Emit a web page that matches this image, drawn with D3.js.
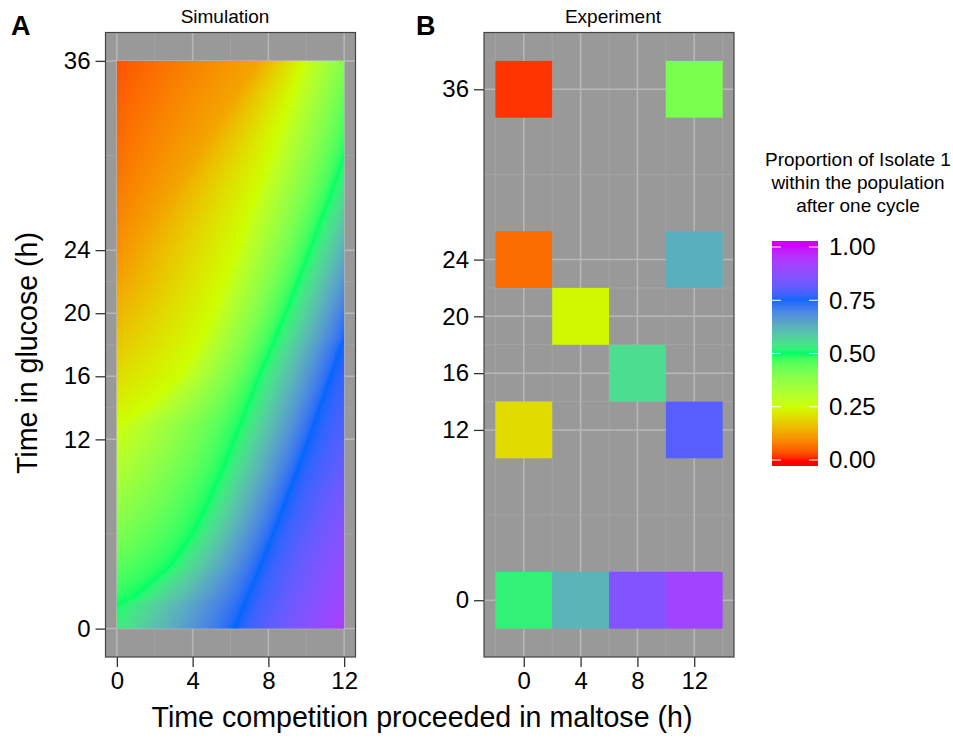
<!DOCTYPE html>
<html>
<head>
<meta charset="utf-8">
<script src="https://cdn.jsdelivr.net/npm/d3@7"></script>
<style>
  body { margin: 0; background: #fff; }
  text { font-family: "Liberation Sans", Arial, sans-serif; fill: #000; }
</style>
</head>
<body>
<div id="chart"></div>
<script>
// simulation (time in glucose, h):
// proportion at the left (0 h) and right (12 h) edges, and the x (h in maltose)
// where the proportion crosses 0.125 / 0.25 / 0.5 / 0.75 (null = not in this row)
var rowY      = [0, 2, 4, 6, 8, 10, 12, 14, 16, 18, 20, 22, 24, 26, 28, 30, 32, 34, 36];
var edgeLeft  = [0.53, 0.49, 0.45, 0.405, 0.36, 0.315, 0.265, 0.23, 0.20, 0.17, 0.145, 0.12, 0.10, 0.085, 0.072, 0.062, 0.053, 0.044, 0.035];
var edgeRight = [0.93, 0.91, 0.89, 0.87, 0.845, 0.82, 0.80, 0.785, 0.77, 0.755, 0.717, 0.674, 0.63, 0.587, 0.543, 0.50, 0.467, 0.435, 0.40];
var cross125  = [null, null, null, null, null, null, null, null, null, null, null, 0.25, 1.1, 2.1, 3.1, 4.2, 5.3, 6.4, 7.5];
var cross25   = [null, null, null, null, null, null, null, 1.5, 3.3, 4.35, 5.1, 5.75, 6.35, 6.9, 7.5, 8.1, 8.7, 9.3, 9.9];
var cross50   = [null, 0.9, 2.85, 4.0, 4.82, 5.55, 6.2, 6.85, 7.5, 8.2, 8.9, 9.55, 10.18, 10.8, 11.43, null, null, null, null];
var cross75   = [6.2, 6.9, 7.58, 8.24, 8.87, 9.49, 10.1, 10.69, 11.27, 11.85, null, null, null, null, null, null, null, null, null];
var levels    = [0.125, 0.25, 0.5, 0.75];

// experiment tiles
var expX = [0, 12, 0, 12, 4, 8, 0, 12, 0, 4, 8, 12];
var expY = [36, 36, 24, 24, 20, 16, 12, 12, 0, 0, 0, 0];
var expP = [0.015, 0.41, 0.06, 0.63, 0.24, 0.555, 0.2, 0.8, 0.52, 0.62, 0.86, 0.91];

var xTicks = [0, 4, 8, 12];
var yTicks = [0, 12, 16, 20, 24, 36];
var legendTicks = [0, 0.25, 0.5, 0.75, 1];
var rainbow5 = ["#FF0000", "#CCFF00", "#00FF66", "#0066FF", "#CC00FF"];

var color = d3.scaleLinear()
  .domain([0, 0.25, 0.5, 0.75, 1])
  .range(rainbow5)
  .interpolate(d3.interpolateLab)
  .clamp(true);

var svg = d3.select("#chart").append("svg")
  .attr("width", 953)
  .attr("height", 741);

var pTop = 32.5, pBot = 657;

var xA = d3.scaleLinear().domain([-0.6, 12.6]).range([105.5, 355.5]);
var yA = d3.scaleLinear().domain([-1.8, 37.8]).range([pBot, pTop]);
var xB = d3.scaleLinear().domain([-2.8, 14.8]).range([484, 734]);
var yB = d3.scaleLinear().domain([-4, 40]).range([pBot, pTop]);

function drawGrid(g, x, y, minorX, minorY) {
  g.append("rect")
    .attr("x", x.range()[0]).attr("y", pTop)
    .attr("width", x.range()[1] - x.range()[0])
    .attr("height", pBot - pTop)
    .attr("fill", "#999999");
  g.selectAll(".mx").data(minorX).enter().append("line")
    .attr("x1", d => x(d)).attr("x2", d => x(d))
    .attr("y1", pTop).attr("y2", pBot)
    .attr("stroke", "#a6a6a6").attr("stroke-width", 0.8);
  g.selectAll(".my").data(minorY).enter().append("line")
    .attr("y1", d => y(d)).attr("y2", d => y(d))
    .attr("x1", x.range()[0]).attr("x2", x.range()[1])
    .attr("stroke", "#a6a6a6").attr("stroke-width", 0.8);
  g.selectAll(".gx").data(xTicks).enter().append("line")
    .attr("x1", d => x(d)).attr("x2", d => x(d))
    .attr("y1", pTop).attr("y2", pBot)
    .attr("stroke", "#b8b8b8").attr("stroke-width", 1.5);
  g.selectAll(".gy").data(yTicks).enter().append("line")
    .attr("y1", d => y(d)).attr("y2", d => y(d))
    .attr("x1", x.range()[0]).attr("x2", x.range()[1])
    .attr("stroke", "#b8b8b8").attr("stroke-width", 1.5);
}

function drawAxes(g, x, y) {
  var ax = g.append("g")
    .attr("transform", "translate(0," + pBot + ")")
    .call(d3.axisBottom(x).tickValues(xTicks).tickSize(10).tickPadding(5));
  var ay = g.append("g")
    .attr("transform", "translate(" + x.range()[0] + ",0)")
    .call(d3.axisLeft(y).tickValues(yTicks).tickSize(10).tickPadding(5));
  [ax, ay].forEach(function(a) {
    a.select(".domain").remove();
    a.selectAll("line").attr("stroke", "#333").attr("stroke-width", 1.3);
    a.selectAll("text").attr("font-size", 24).attr("fill", "#000")
      .style("font-family", '"Liberation Sans", Arial, sans-serif');
  });
  g.append("rect")
    .attr("x", x.range()[0]).attr("y", pTop)
    .attr("width", x.range()[1] - x.range()[0])
    .attr("height", pBot - pTop)
    .attr("fill", "none").attr("stroke", "#444").attr("stroke-width", 1.2);
}

// ---- panel A: simulation raster
var gA = svg.append("g");
drawGrid(gA, xA, yA, [2, 6, 10], [6, 14, 18, 22, 30]);

// each level line as (y, x) points: row crossings + where it meets the left/right edge
var contours = levels.map(function(L, li) {
  var cr = [cross125, cross25, cross50, cross75][li];
  var pts = [];
  rowY.forEach(function(yv, j) { if (cr[j] != null) pts.push([yv, cr[j]]); });
  [[edgeLeft, 0], [edgeRight, 12]].forEach(function(e) {
    var ev = e[0];
    for (var j = 0; j < rowY.length; j++) {
      if (ev[j] == L) pts.push([rowY[j], e[1]]);
      if (j < rowY.length - 1 && (ev[j] - L) * (ev[j + 1] - L) < 0) {
        pts.push([rowY[j] + (L - ev[j]) / (ev[j + 1] - ev[j]) * (rowY[j + 1] - rowY[j]), e[1]]);
      }
    }
  });
  pts.sort((a, b) => a[0] - b[0]);
  return pts;
});
function contourX(li, y) {
  var p = contours[li];
  if (!p.length || y < p[0][0] || y > p[p.length - 1][0]) return null;
  for (var n = 1; n < p.length; n++) {
    if (y <= p[n][0]) {
      var t = (y - p[n - 1][0]) / (p[n][0] - p[n - 1][0] || 1);
      return p[n - 1][1] + (p[n][1] - p[n - 1][1]) * t;
    }
  }
  return p[p.length - 1][1];
}
var leftAt = d3.scaleLinear().domain(rowY).range(edgeLeft);
var rightAt = d3.scaleLinear().domain(rowY).range(edgeRight);

function simValue(x, y) {
  var k = [[0, leftAt(y)]];
  levels.forEach(function(L, li) {
    var cx = contourX(li, y);
    if (cx != null && cx > 0 && cx < 12) k.push([cx, L]);
  });
  k.push([12, rightAt(y)]);
  k.sort((a, b) => a[0] - b[0]);
  for (var n = 1; n < k.length; n++) {
    if (x <= k[n][0] || n == k.length - 1) {
      var t = (x - k[n - 1][0]) / (k[n][0] - k[n - 1][0]);
      return k[n - 1][1] + (k[n][1] - k[n - 1][1]) * t;
    }
  }
}

var rx0 = xA(0), rx1 = xA(12), ry0 = yA(36), ry1 = yA(0);
var cw = Math.round(rx1 - rx0), ch = Math.round(ry1 - ry0);
var canvas = document.createElement("canvas");
canvas.width = cw; canvas.height = ch;
var ctx = canvas.getContext("2d");
var img = ctx.createImageData(cw, ch);
for (var py = 0; py < ch; py++) {
  var dy = yA.invert(ry0 + (py + 0.5) * (ry1 - ry0) / ch);
  for (var px = 0; px < cw; px++) {
    var dx = xA.invert(rx0 + (px + 0.5) * (rx1 - rx0) / cw);
    var c = d3.rgb(color(simValue(dx, dy)));
    var q = (py * cw + px) * 4;
    img.data[q] = c.r; img.data[q + 1] = c.g; img.data[q + 2] = c.b; img.data[q + 3] = 255;
  }
}
ctx.putImageData(img, 0, 0);
gA.append("image")
  .attr("x", rx0).attr("y", ry0)
  .attr("width", rx1 - rx0).attr("height", ry1 - ry0)
  .attr("preserveAspectRatio", "none")
  .attr("href", canvas.toDataURL());
drawAxes(gA, xA, yA);

// ---- panel B: experiment tiles
var gB = svg.append("g");
drawGrid(gB, xB, yB, [-2, 2, 6, 10, 14], [6, 14, 18, 22, 30]);
gB.selectAll(".tile").data(expP).enter().append("rect")
  .attr("class", "tile")
  .attr("x", (d, i) => xB(expX[i] - 2))
  .attr("y", (d, i) => yB(expY[i] + 2))
  .attr("width", (d, i) => xB(expX[i] + 2) - xB(expX[i] - 2))
  .attr("height", (d, i) => yB(expY[i] - 2) - yB(expY[i] + 2))
  .attr("fill", d => color(d));
drawAxes(gB, xB, yB);

// ---- titles
svg.append("text").attr("x", 11).attr("y", 35).attr("font-size", 27).attr("font-weight", "bold").text("A");
svg.append("text").attr("x", 416).attr("y", 35).attr("font-size", 27).attr("font-weight", "bold").text("B");
svg.append("text").attr("x", 225).attr("y", 23).attr("font-size", 19).attr("text-anchor", "middle").text("Simulation");
svg.append("text").attr("x", 613).attr("y", 23).attr("font-size", 19).attr("text-anchor", "middle").text("Experiment");
svg.append("text").attr("x", 422).attr("y", 727).attr("font-size", 28.6).attr("text-anchor", "middle")
  .text("Time competition proceeded in maltose (h)");
svg.append("text").attr("transform", "translate(37,353) rotate(-90)").attr("font-size", 28.6)
  .attr("text-anchor", "middle").text("Time in glucose (h)");

// ---- legend
var lx = 772, lw = 46, lTop = 241, lBot = 466;
var ly = d3.scaleLinear().domain([0, 1]).range([460, 247]);
var grad = svg.append("defs").append("linearGradient")
  .attr("id", "lg").attr("x1", 0).attr("y1", 1).attr("x2", 0).attr("y2", 0);
d3.range(0, 1.0001, 0.02).forEach(function(t) {
  var v = ly.invert(lBot + t * (lTop - lBot));
  grad.append("stop").attr("offset", t).attr("stop-color", color(v));
});
svg.append("rect").attr("x", lx).attr("y", lTop).attr("width", lw).attr("height", lBot - lTop)
  .attr("fill", "url(#lg)");
legendTicks.forEach(function(t) {
  svg.append("line").attr("x1", lx).attr("x2", lx + 9).attr("y1", ly(t)).attr("y2", ly(t))
    .attr("stroke", "#fff").attr("stroke-width", 1);
  svg.append("line").attr("x1", lx + lw - 9).attr("x2", lx + lw).attr("y1", ly(t)).attr("y2", ly(t))
    .attr("stroke", "#fff").attr("stroke-width", 1);
  svg.append("text").attr("x", 829).attr("y", ly(t)).attr("dy", "0.35em").attr("font-size", 24)
    .text(d3.format(".2f")(t));
});
var legTitle = ["Proportion of Isolate 1", "within the population", "after one cycle"];
svg.selectAll(".lt").data(legTitle).enter().append("text")
  .attr("x", 858).attr("y", (d, i) => 166 + i * 23)
  .attr("font-size", 19).attr("text-anchor", "middle").text(d => d);
</script>
</body>
</html>
